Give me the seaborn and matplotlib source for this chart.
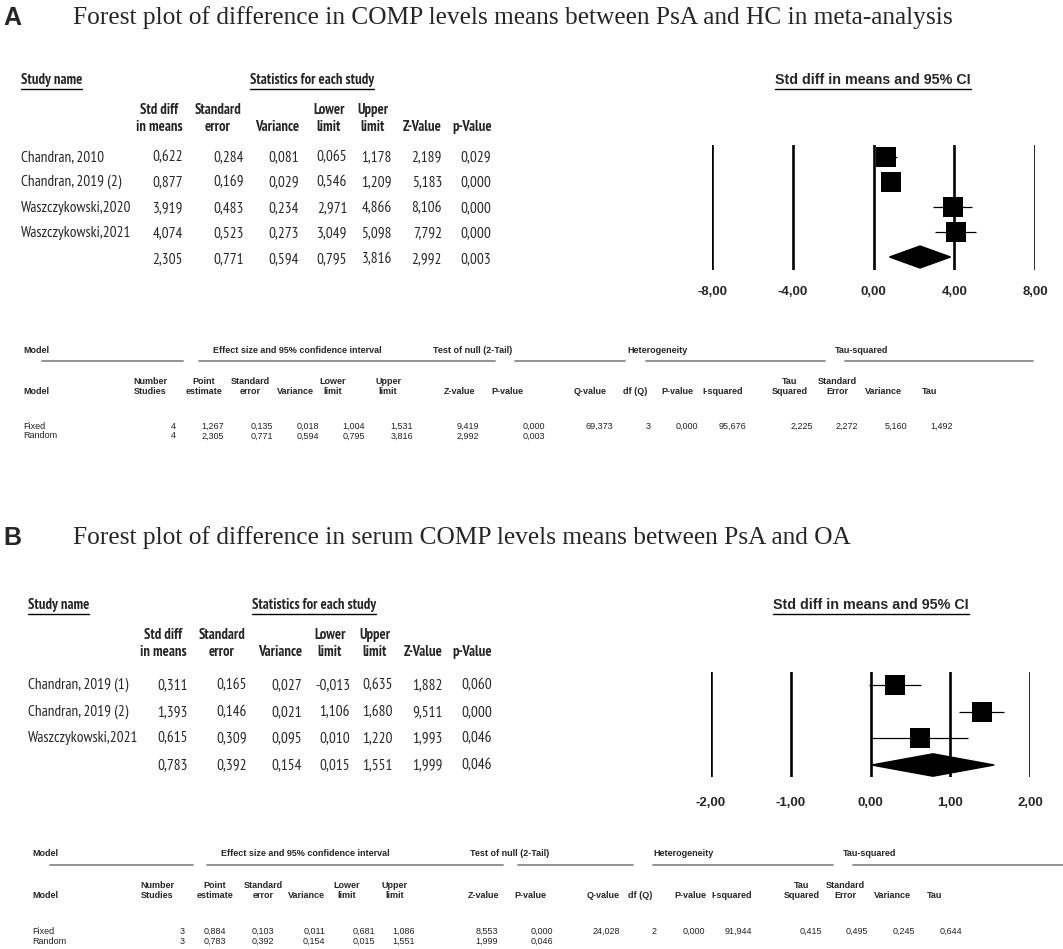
import matplotlib
matplotlib.use("Agg")
import matplotlib.pyplot as plt
from matplotlib.lines import Line2D
import seaborn as sns
import pandas as pd

# ---- panel A data -------------------------------------------------------
studies_a = ["Chandran, 2010", "Chandran, 2019 (2)", "Waszczykowski,2020", "Waszczykowski,2021"]
smd_a = [0.622, 0.877, 3.919, 4.074]
se_a = [0.284, 0.169, 0.483, 0.523]
var_a = [0.081, 0.029, 0.234, 0.273]
lower_a = [0.065, 0.546, 2.971, 3.049]
upper_a = [1.178, 1.209, 4.866, 5.098]
zval_a = [2.189, 5.183, 8.106, 7.792]
pval_a = [0.029, 0.000, 0.000, 0.000]
summary_a = [2.305, 0.771, 0.594, 0.795, 3.816, 2.992, 0.003]
ticks_a = [-8, -4, 0, 4, 8]
fixed_a = [4, 1.267, 0.135, 0.018, 1.004, 1.531, 9.419, 0.000, 69.373, 3, 0.000, 95.676, 2.225, 2.272, 5.160, 1.492]
random_a = [4, 2.305, 0.771, 0.594, 0.795, 3.816, 2.992, 0.003]

# ---- panel B data -------------------------------------------------------
studies_b = ["Chandran, 2019 (1)", "Chandran, 2019 (2)", "Waszczykowski,2021"]
smd_b = [0.311, 1.393, 0.615]
se_b = [0.165, 0.146, 0.309]
var_b = [0.027, 0.021, 0.095]
lower_b = [-0.013, 1.106, 0.010]
upper_b = [0.635, 1.680, 1.220]
zval_b = [1.882, 9.511, 1.993]
pval_b = [0.060, 0.000, 0.046]
summary_b = [0.783, 0.392, 0.154, 0.015, 1.551, 1.999, 0.046]
ticks_b = [-2, -1, 0, 1, 2]
fixed_b = [3, 0.884, 0.103, 0.011, 0.681, 1.086, 8.553, 0.000, 24.028, 2, 0.000, 91.944, 0.415, 0.495, 0.245, 0.644]
random_b = [3, 0.783, 0.392, 0.154, 0.015, 1.551, 1.999, 0.046]

titles = ["Forest plot of difference in COMP levels means between PsA and HC in meta-analysis",
          "Forest plot of difference in serum COMP levels means between PsA and OA"]
stat_heads = [("Std diff", "in means"), ("Standard", "error"), ("", "Variance"), ("Lower", "limit"),
              ("Upper", "limit"), ("", "Z-Value"), ("", "p-Value")]
model_groups = ["Effect size and 95% confidence interval", "Test of null (2-Tail)", "Heterogeneity", "Tau-squared"]
model_heads = [("Number", "Studies"), ("Point", "estimate"), ("Standard", "error"), ("", "Variance"),
               ("Lower", "limit"), ("Upper", "limit"), ("", "Z-value"), ("", "P-value"), ("", "Q-value"),
               ("", "df (Q)"), ("", "P-value"), ("", "I-squared"), ("Tau", "Squared"), ("Standard", "Error"),
               ("", "Variance"), ("", "Tau")]
models = ["Fixed", "Random"]

sns.set_style("white")
W, H = 1063, 949
fig = plt.figure(figsize=(W / 100, H / 100), dpi=100)

SANS = ["Liberation Sans", "DejaVu Sans"]
NARROW = ["PT Sans Narrow", "Liberation Sans"]
SERIF = ["Liberation Serif", "DejaVu Serif"]
FS_ROW = 11.0    # study rows
FS_HEAD = 10.5   # bold column heads
FS_SMALL = 6.5   # model summary table


def fx(x):
    return x / W


def fy(y):
    return 1 - y / H


def txt(x, y, s, **kw):
    kw.setdefault("va", "center")
    kw.setdefault("family", SANS)
    return fig.text(fx(x), fy(y), s, **kw)


def num(v):
    return f"{v:.3f}".replace(".", ",")


def underline(t):
    r = fig.canvas.get_renderer()
    bb = t.get_window_extent(renderer=r)
    y = bb.y0 - 1.5
    fig.add_artist(Line2D([bb.x0 / W, bb.x1 / W], [y / H, y / H], color="black", lw=1.0))


def stats_table(names, cols, summary, lay):
    sx, stat_x, hy, ry, centers, rights = lay
    underline(txt(sx, hy, "Study name", family=NARROW, fontsize=FS_HEAD, fontweight="bold"))
    underline(txt(stat_x, hy, "Statistics for each study", family=NARROW, fontsize=FS_HEAD, fontweight="bold"))
    for (l1, l2), c in zip(stat_heads, centers):
        if l1:
            txt(c, hy + 30, l1, family=NARROW, fontsize=FS_HEAD, fontweight="bold", ha="center")
        txt(c, hy + 47, l2, family=NARROW, fontsize=FS_HEAD, fontweight="bold", ha="center")
    for i, name in enumerate(names):
        txt(sx, ry[i], name, family=NARROW, fontsize=FS_ROW)
        for col, r in zip(cols, rights):
            txt(r, ry[i], num(col[i]), family=NARROW, fontsize=FS_ROW, ha="right")
    for v, r in zip(summary, rights):
        txt(r, ry[len(names)], num(v), family=NARROW, fontsize=FS_ROW, ha="right")


def forest(est, lo, hi, summ, ticks, box, rows_px, head_xy, tick_y, half_h):
    left, top, right, bottom = box
    ax = fig.add_axes([fx(left), fy(bottom), (right - left) / W, (bottom - top) / H])
    n = len(est)
    step = (rows_px[-1] - rows_px[0]) / n
    ax.set_xlim(ticks[0], ticks[-1])
    ax.set_ylim((bottom - rows_px[0]) / step, (top - rows_px[0]) / step)
    ax.axis("off")
    for t in ticks:
        ax.axvline(t, color="black", lw=1.9)
    df = pd.DataFrame({"est": est, "row": range(n)})
    ax.hlines(range(n), lo, hi, color="black", lw=0.9, clip_on=False)
    sns.scatterplot(data=df, x="est", y="row", marker="s", s=205, color="black",
                    edgecolor="black", linewidth=0, legend=False, ax=ax, clip_on=False, zorder=3)
    pe, l, u = summ[0], summ[3], summ[4]
    ax.fill([l, pe, u, pe], [n, n - half_h, n, n + half_h], color="black", clip_on=False, zorder=3)
    ax.set_xlabel("")
    ax.set_ylabel("")
    underline(txt(head_xy[0], head_xy[1], "Std diff in means and 95% CI", fontsize=10.3,
                  fontweight="bold", ha="center"))
    for t in ticks:
        xp = left + (t - ticks[0]) / (ticks[-1] - ticks[0]) * (right - left)
        txt(xp, tick_y, f"{t:.2f}".replace(".", ","), fontsize=9.5, fontweight="bold", ha="center")


def model_table(fixed, random, lay):
    mx, gy, line_y, segs, gx, hc, rights, data_y = lay
    txt(mx, gy, "Model", fontsize=FS_SMALL, fontweight="bold")
    txt(gx[0], gy, model_groups[0], fontsize=FS_SMALL, fontweight="bold", ha="center")
    for g, x in zip(model_groups[1:], gx[1:]):
        txt(x, gy, g, fontsize=FS_SMALL, fontweight="bold")
    for a, b in segs:
        fig.add_artist(Line2D([fx(a), fx(min(b, W))], [fy(line_y), fy(line_y)], color="#8a8a8a", lw=1.3))
    txt(mx, line_y + 30, "Model", fontsize=FS_SMALL, fontweight="bold")
    for (l1, l2), c in zip(model_heads, hc):
        if l1:
            txt(c, line_y + 20, l1, fontsize=FS_SMALL, fontweight="bold", ha="center")
        txt(c, line_y + 30, l2, fontsize=FS_SMALL, fontweight="bold", ha="center")
    for k, (name, vals) in enumerate(zip(models, [fixed, random])):
        y = data_y[k]
        txt(mx, y, name, fontsize=FS_SMALL, color="#222222")
        for j, (v, r) in enumerate(zip(vals, rights)):
            s = str(v) if j in (0, 9) else num(v)
            txt(r, y, s, fontsize=FS_SMALL, color="#222222", ha="right")


# layouts (pixel positions)
lay_a = (21, 250, 80, [157, 182, 208, 233, 259], [159, 218, 277, 329, 373, 422, 472],
         [183, 244, 299, 347, 392, 442, 491])
lay_b = (28, 252, 605, [685, 712, 738, 765], [163, 222, 280, 330, 375, 423, 472],
         [188, 247, 302, 350, 393, 443, 492])

# panel labels and titles
txt(3, 18, "A", fontsize=18, fontweight="bold")
txt(73, 18, titles[0], family=SERIF, fontsize=18.3)
txt(3, 538, "B", fontsize=18, fontweight="bold")
txt(73, 538, titles[1], family=SERIF, fontsize=18.3)

stats_table(studies_a, [smd_a, se_a, var_a, lower_a, upper_a, zval_a, pval_a], summary_a, lay_a)
stats_table(studies_b, [smd_b, se_b, var_b, lower_b, upper_b, zval_b, pval_b], summary_b, lay_b)

forest(smd_a, lower_a, upper_a, summary_a, ticks_a, (712, 145, 1035, 270),
       [157, 157 + 25 * 4], (873, 80), 292, 0.44)
forest(smd_b, lower_b, upper_b, summary_b, ticks_b, (711, 672, 1030, 777),
       [685, 685 + 26.67 * 3], (871, 605), 803, 0.42)

model_table(fixed_a, random_a,
            (23, 351, 361, [(42, 183), (199, 495), (515, 625), (646, 825), (845, 1033)],
             [297, 433, 627, 835],
             [150, 204, 250, 295, 333, 388, 460, 507, 590, 635, 677, 723, 790, 837, 883, 930],
             [176, 224, 273, 319, 365, 413, 479, 545, 613, 651, 698, 746, 813, 858, 907, 953],
             [426, 436]))
model_table(fixed_b, random_b,
            (32, 853, 865, [(50, 193), (207, 503), (518, 633), (653, 833), (853, 1063)],
             [305, 470, 653, 843],
             [157, 215, 263, 306, 347, 395, 483, 530, 603, 640, 690, 732, 802, 845, 892, 935],
             [185, 226, 274, 325, 375, 415, 498, 553, 620, 657, 705, 752, 822, 868, 915, 962],
             [931, 941]))

fig.savefig("out.png", dpi=100, facecolor="white")
